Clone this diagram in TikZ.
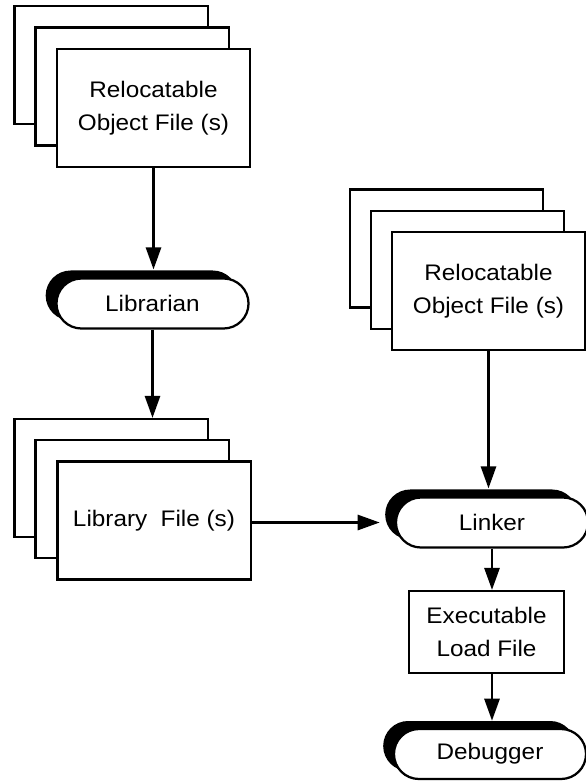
\documentclass[tikz,border=0pt]{standalone}
\usepackage{fontspec}
\setmainfont{Liberation Sans}[FakeStretch=1.08]
\usetikzlibrary{arrows.meta}
\usetikzlibrary{shapes.misc}
\usetikzlibrary{shadows}

\begin{document}
\begin{tikzpicture}[x=0.025cm,y=-0.025cm,line width=1.6pt,
    >={Triangle[length=0.55cm,width=0.38cm]},
    font=\fontsize{16}{23.5}\selectfont,
    file/.style={draw,fill=white,align=center,inner sep=0pt,
      minimum width=4.83cm,minimum height=2.95cm},
    tool/.style={draw,fill=white,rounded rectangle,inner sep=0pt,
      minimum width=4.8cm,minimum height=1.25cm,
      drop shadow={shadow xshift=-0.27cm,shadow yshift=0.2cm,fill=black,opacity=1}}]
    \useasboundingbox (0,0) rectangle (585,781);
    % left column
    \node[file] (objback) at (111,65) {};
    \node[file] (objmid) at (132,86.5) {};
    \node[file] (obj) at (153.5,108) {Relocatable\\Object File (s)};
    \node[tool] (librarian) at (152.5,303.5) {Librarian};
    \node[file] (libback) at (111,478) {};
    \node[file] (libmid) at (132,499) {};
    \node[file] (lib) at (154,520.5) {Library\ \ File (s)};
    %
    % right column
    \node[file] (robjback) at (446.5,248.5) {};
    \node[file] (robjmid) at (467.5,270) {};
    \node[file] (robj) at (488.5,291) {Relocatable\\Object File (s)};
    \node[tool] (linker) at (492,522.5) {Linker};
    \node[file,minimum width=3.88cm,minimum height=2.05cm] (exe) at (486.5,632) {Executable\\Load File};
    \node[tool] (debugger) at (490,754) {Debugger};
    %
    \draw[->,shorten >=0.2cm] (obj.south) -- (obj.south |- librarian.north);
    \draw[->] (librarian.south) -- (librarian.south |- libback.north);
    \draw[->,shorten >=0.38cm] (lib.east |- linker.west) -- (linker.west);
    \draw[->,shorten >=0.2cm] (robj.south) -- (robj.south |- linker.north);
    \draw[->] (linker.south) -- (linker.south |- exe.north);
    \draw[->,shorten >=0.18cm] (exe.south -| linker) -- (linker |- debugger.north);
\end{tikzpicture}
\end{document}
